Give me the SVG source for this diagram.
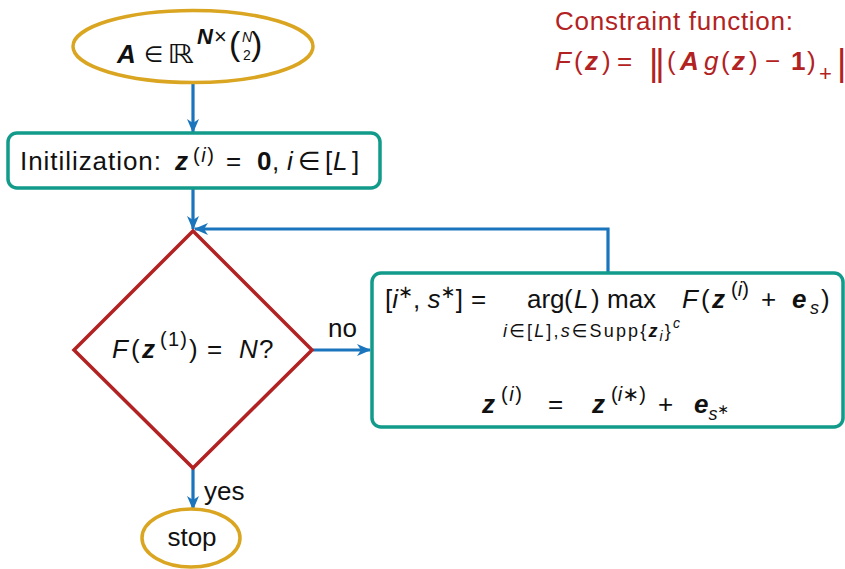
<svg xmlns="http://www.w3.org/2000/svg" width="845" height="569" viewBox="0 0 845 569">
<defs>
<style>
.t{font-family:"Liberation Sans","DejaVu Sans",sans-serif;font-size:26px;fill:#111}
.r{fill:#b22222}
.i{font-style:italic}
.b{font-weight:bold}
.bi{font-weight:bold;font-style:italic}
.sm{font-size:18px}
.s20{font-size:20px}
.s22{font-size:22px}
.s34{font-size:34px}
.s36{font-size:36px}
.xs{font-size:14px}
.dv{font-family:"DejaVu Sans",sans-serif}
.conn{stroke:#1a75bc;stroke-width:3.2;fill:none}
</style>
<marker id="ah" markerWidth="14" markerHeight="12" refX="13" refY="6" orient="auto" markerUnits="userSpaceOnUse" viewBox="0 0 14 12">
<path d="M0,0 L14,6 L0,12 L4,6 z" fill="#1a75bc"/>
</marker>
</defs>
<rect width="845" height="569" fill="#fff"/>

<g id="connectors">
<path class="conn" d="M193,83 L193,132" marker-end="url(#ah)"/>
<path class="conn" d="M193,188 L193,229" marker-end="url(#ah)"/>
<path class="conn" d="M313,350 L370,350" marker-end="url(#ah)"/>
<path class="conn" d="M608,272 L608,229 L195,229" marker-end="url(#ah)"/>
<path class="conn" d="M193,468 L193,509" marker-end="url(#ah)"/>
<text class="t" x="328" y="337">no</text>
<text class="t" x="204" y="500">yes</text>
</g>

<g id="input">
<ellipse cx="193" cy="46.5" rx="120" ry="36" fill="#fff" stroke="#daa520" stroke-width="3.5"/>
<text class="t bi" x="117" y="63">A</text>
<text class="t dv s22" x="144" y="62">∈</text>
<text class="t dv" transform="translate(167,63) scale(1.3,1)" x="0" y="0">ℝ</text>
<text class="t bi s22" x="197" y="44">N</text>
<text class="t s22" x="214" y="44">×</text>
<text class="t s34" x="229" y="55">(</text>
<text class="t xs i" x="242" y="42">N</text>
<text class="t xs" x="243" y="60">2</text>
<text class="t s34" x="251" y="55">)</text>
</g>

<g id="constraint">
<text class="t r" x="555" y="30" textLength="238">Constraint function:</text>
<text class="t r i" x="555" y="70">F</text>
<text class="t r" x="574" y="70">(</text>
<text class="t r bi" x="585" y="70">z</text>
<text class="t r" x="602" y="70">)</text>
<text class="t r" x="617" y="70">=</text>
<text class="t r s36" x="649" y="75" letter-spacing="-3">||</text>
<text class="t r" x="667" y="70">(</text>
<text class="t r bi" x="680" y="70">A</text>
<text class="t r i" x="704" y="70">g</text>
<text class="t r" x="721" y="70">(</text>
<text class="t r bi" x="732" y="70">z</text>
<text class="t r" x="749" y="70">)</text>
<text class="t r" x="765" y="70">−</text>
<text class="t r b" x="791" y="70">1</text>
<text class="t r" x="807" y="70">)</text>
<text class="t r s22" x="819" y="81">+</text>
<text class="t r s36" x="837" y="75">|</text>
</g>

<g id="init">
<rect x="8" y="133" width="372" height="55" rx="9" fill="#fff" stroke="#129a8a" stroke-width="3.5"/>
<text class="t" x="20" y="170" textLength="141">Initilization:</text>
<text class="t bi" x="175" y="170">z</text>
<text class="t s20" x="193" y="162" textLength="21">(<tspan class="i">i</tspan>)</text>
<text class="t" x="226" y="170">=</text>
<text class="t b" x="257" y="170">0</text>
<text class="t" x="272" y="170">,</text>
<text class="t i" x="287" y="170">i</text>
<text class="t dv" x="298" y="170">∈</text>
<text class="t" x="325" y="170">[</text>
<text class="t i" x="333" y="170">L</text>
<text class="t" x="352" y="170">]</text>
</g>

<g id="decision">
<polygon points="193,231 312,350 193,468 74,350" fill="#fff" stroke="#b22222" stroke-width="3.5"/>
<text class="t i" x="112" y="358">F</text>
<text class="t" x="131" y="358">(</text>
<text class="t bi" x="142" y="358">z</text>
<text class="t s20" x="160" y="346" textLength="27">(1)</text>
<text class="t" x="189" y="358">)</text>
<text class="t" x="207" y="358">=</text>
<text class="t i" x="239" y="358">N</text>
<text class="t" x="259" y="358">?</text>
</g>

<g id="update">
<rect x="372" y="273" width="471" height="154" rx="9" fill="#fff" stroke="#129a8a" stroke-width="3.5"/>
<text class="t" x="385" y="308">[<tspan class="i">i</tspan><tspan class="sm" dy="-10">∗</tspan><tspan dy="10">, </tspan><tspan class="i">s</tspan><tspan class="sm" dy="-10">∗</tspan><tspan dy="10">]</tspan></text>
<text class="t" x="471" y="308">=</text>
<text class="t" x="527" y="308">arg</text>
<text class="t" x="564" y="308">(</text>
<text class="t i" x="574" y="308">L</text>
<text class="t" x="591" y="308">)</text>
<text class="t" x="607" y="308">max</text>
<text class="t i" x="682" y="308">F</text>
<text class="t" x="701" y="308">(</text>
<text class="t bi" x="712" y="308">z</text>
<text class="t s20" x="731" y="296">(<tspan class="i">i</tspan>)</text>
<text class="t" x="761" y="308">+</text>
<text class="t bi" x="792" y="308">e</text>
<text class="t sm i" x="810" y="314">s</text>
<text class="t" x="821" y="308">)</text>
<text class="t sm" x="503" y="337" textLength="177"><tspan class="i">i</tspan>∈[<tspan class="i">L</tspan>],<tspan class="i">s</tspan>∈Supp{<tspan class="bi">z</tspan><tspan class="xs i" dy="4">i</tspan><tspan dy="-4">}</tspan><tspan class="xs i" dy="-9">c</tspan></text>
<text class="t bi" x="482" y="413">z</text>
<text class="t s20" x="501" y="401" textLength="21">(<tspan class="i">i</tspan>)</text>
<text class="t" x="548" y="413">=</text>
<text class="t bi" x="592" y="413">z</text>
<text class="t s20" x="611" y="401" textLength="35">(<tspan class="i">i</tspan>∗)</text>
<text class="t" x="658" y="413">+</text>
<text class="t" x="694" y="413"><tspan class="bi">e</tspan><tspan class="sm i" dy="7">s</tspan><tspan class="xs" dy="-6">∗</tspan></text>
</g>

<g id="stop">
<ellipse cx="191" cy="538" rx="49" ry="29" fill="#fff" stroke="#daa520" stroke-width="3.5"/>
<text class="t" x="192" y="546" text-anchor="middle">stop</text>
</g>
</svg>
